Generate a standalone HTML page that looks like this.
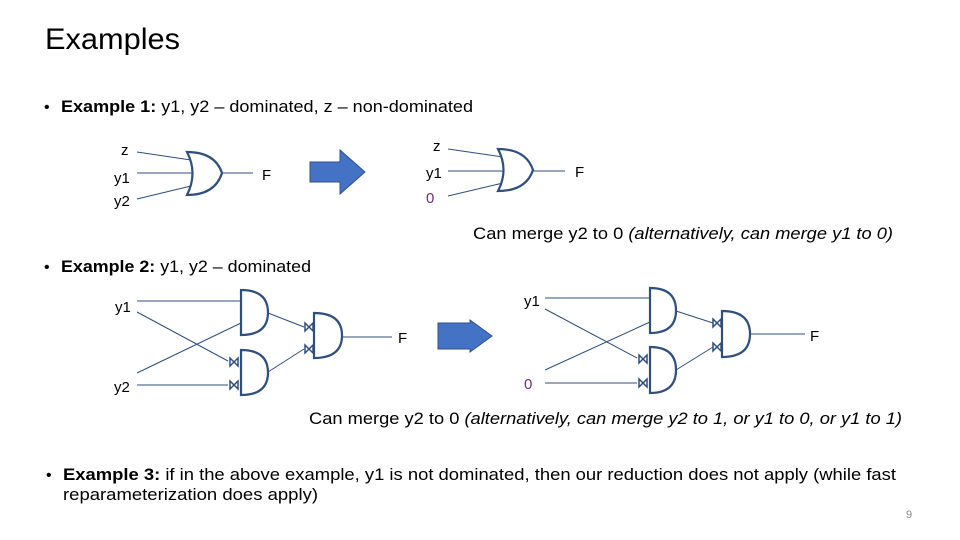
<!DOCTYPE html>
<html><head><meta charset="utf-8"><style>
html,body{margin:0;padding:0;background:#fff}
svg{display:block}
text{font-family:"Liberation Sans",sans-serif;fill:#000}
</style></head><body>
<svg width="960" height="540" viewBox="0 0 960 540" xmlns="http://www.w3.org/2000/svg">
<defs>
<path id="bt" d="M-4,-4 L4,4 L4,-4 L-4,4 Z" fill="#fff" stroke="#2f4f7f" stroke-width="1.5"/>
</defs>
<text x="45" y="49" font-size="30" textLength="135" lengthAdjust="spacingAndGlyphs">Examples</text>

<text x="44" y="112" font-size="16">•</text>
<text x="61" y="112" font-size="17" textLength="412" lengthAdjust="spacingAndGlyphs"><tspan font-weight="bold">Example 1:</tspan> y1, y2 – dominated, z – non-dominated</text>

<g font-size="15">
<text x="121" y="155">z</text><text x="114" y="183">y1</text><text x="114" y="206">y2</text>
<text x="262" y="180">F</text>
<text x="433" y="151">z</text><text x="426" y="178">y1</text><text x="426" y="203" fill="#70306f" style="fill:#70306f">0</text>
<text x="575" y="177">F</text>
</g>
<g stroke="#2f4f7f" fill="none" stroke-width="1">
<line x1="137" y1="152" x2="191" y2="160"/><line x1="137" y1="173" x2="193" y2="173"/><line x1="137" y1="199" x2="191" y2="186"/>
<line x1="222" y1="173" x2="253" y2="173"/>
<line x1="448" y1="149" x2="503" y2="157"/><line x1="448" y1="171" x2="505" y2="171"/><line x1="448" y1="196" x2="503" y2="183"/>
<line x1="533" y1="171" x2="565" y2="171"/>
</g>
<g stroke="#2f4f7f" fill="#fff" stroke-width="2.2">
<path d="M187,152 Q198,173 187,195 Q215,195 222,173 Q215,152 187,152 Z"/>
<path d="M498,149 Q509,170 498,191 Q526,191 533,170 Q526,149 498,149 Z"/>
</g>
<path d="M310,162 L340,162 L340,150 L365,172 L340,194 L340,182 L310,182 Z" fill="#4472c4" stroke="#2f528f" stroke-width="1"/>

<text x="473" y="239" font-size="17" textLength="420" lengthAdjust="spacingAndGlyphs">Can merge y2 to 0 <tspan font-style="italic">(alternatively, can merge y1 to 0)</tspan></text>

<text x="44" y="272" font-size="16">•</text>
<text x="61" y="272" font-size="17" textLength="250" lengthAdjust="spacingAndGlyphs"><tspan font-weight="bold">Example 2:</tspan> y1, y2 – dominated</text>

<!-- example 2 left -->
<g font-size="15">
<text x="115" y="312">y1</text><text x="114" y="392">y2</text><text x="398" y="343">F</text>
<text x="524" y="306">y1</text><text x="524" y="389" style="fill:#70306f">0</text><text x="810" y="341">F</text>
</g>
<g stroke="#2f4f7f" fill="none" stroke-width="1">
<line x1="137" y1="301" x2="241" y2="301"/>
<line x1="137" y1="312" x2="228" y2="361"/>
<line x1="137" y1="373" x2="241" y2="323"/>
<line x1="137" y1="385" x2="228" y2="385"/>
<line x1="268" y1="313" x2="304" y2="327"/>
<line x1="268" y1="372" x2="304" y2="349"/>
<line x1="342" y1="337" x2="392" y2="337"/>
<line x1="545" y1="298" x2="650" y2="298"/>
<line x1="545" y1="309" x2="637" y2="358"/>
<line x1="545" y1="370" x2="650" y2="322"/>
<line x1="545" y1="383" x2="637" y2="383"/>
<line x1="676" y1="311" x2="713" y2="323"/>
<line x1="676" y1="370" x2="713" y2="347"/>
<line x1="750" y1="334" x2="805" y2="334"/>
</g>
<g stroke="#2f4f7f" fill="#fff" stroke-width="2.2">
<path d="M241,290 L241,335 Q268,335 268,312.5 Q268,290 241,290 Z"/>
<path d="M241,350 L241,395 Q268,395 268,372.5 Q268,350 241,350 Z"/>
<path d="M314,313 L314,358 Q342,358 342,335.5 Q342,313 314,313 Z"/>
<path d="M650,288 L650,333 Q676,333 676,310.5 Q676,288 650,288 Z"/>
<path d="M650,347 L650,393 Q676,393 676,370 Q676,347 650,347 Z"/>
<path d="M722,311 L722,357 Q750,357 750,334 Q750,311 722,311 Z"/>
</g>
<use href="#bt" x="234" y="362"/><use href="#bt" x="234" y="385"/>
<use href="#bt" x="309" y="327"/><use href="#bt" x="309" y="349"/>
<use href="#bt" x="643" y="359"/><use href="#bt" x="643" y="383"/>
<use href="#bt" x="717" y="323"/><use href="#bt" x="717" y="347"/>
<path d="M438,323 L470,323 L470,320 L492,336 L470,352 L470,349 L438,349 Z" fill="#4472c4" stroke="#2f528f" stroke-width="1"/>

<text x="309" y="424" font-size="17" textLength="593" lengthAdjust="spacingAndGlyphs">Can merge y2 to 0 <tspan font-style="italic">(alternatively, can merge y2 to 1, or y1 to 0, or y1 to 1)</tspan></text>

<text x="46" y="480" font-size="16">•</text>
<text x="63" y="480" font-size="17" textLength="833" lengthAdjust="spacingAndGlyphs"><tspan font-weight="bold">Example 3:</tspan> if in the above example, y1 is not dominated, then our reduction does not apply (while fast</text>
<text x="63" y="500" font-size="17" textLength="255" lengthAdjust="spacingAndGlyphs">reparameterization does apply)</text>
<text x="906" y="518" font-size="11" style="fill:#888">9</text>
</svg>
</body></html>
